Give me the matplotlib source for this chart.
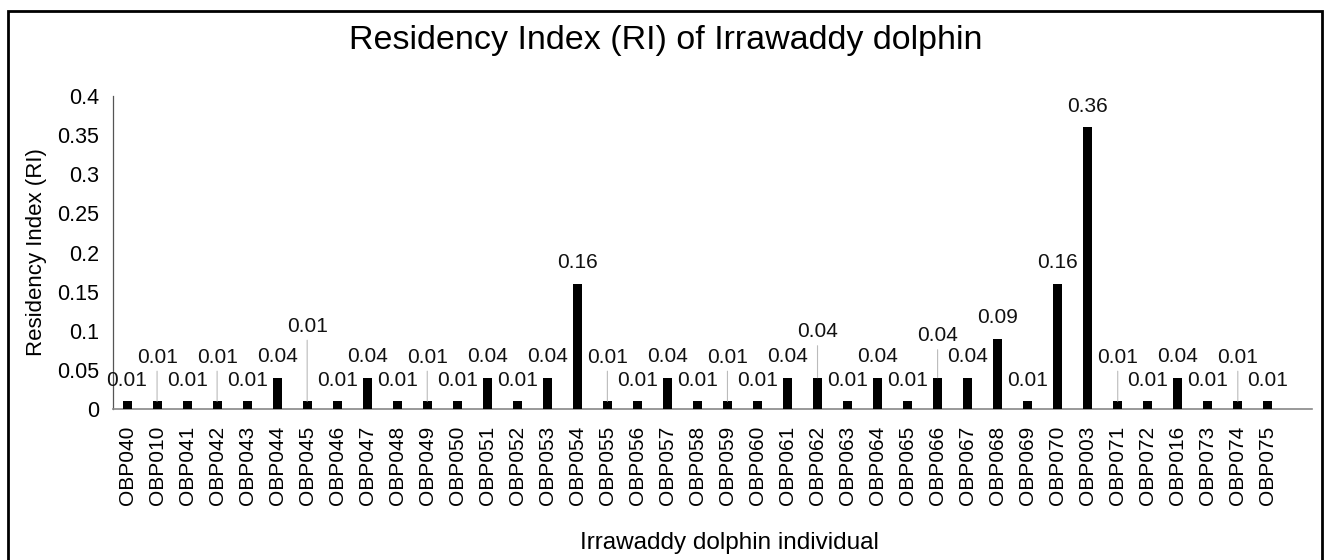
import matplotlib.pyplot as plt
from matplotlib.patches import Rectangle

plt.rcParams['font.family'] = ['Liberation Sans', 'DejaVu Sans']

# individuals in chart order
dolphins = ['OBP040', 'OBP010', 'OBP041', 'OBP042', 'OBP043', 'OBP044', 'OBP045',
            'OBP046', 'OBP047', 'OBP048', 'OBP049', 'OBP050', 'OBP051', 'OBP052',
            'OBP053', 'OBP054', 'OBP055', 'OBP056', 'OBP057', 'OBP058', 'OBP059',
            'OBP060', 'OBP061', 'OBP062', 'OBP063', 'OBP064', 'OBP065', 'OBP066',
            'OBP067', 'OBP068', 'OBP069', 'OBP070', 'OBP003', 'OBP071', 'OBP072',
            'OBP016', 'OBP073', 'OBP074', 'OBP075']
ri = [0.01, 0.01, 0.01, 0.01, 0.01, 0.04, 0.01,
      0.01, 0.04, 0.01, 0.01, 0.01, 0.04, 0.01,
      0.04, 0.16, 0.01, 0.01, 0.04, 0.01, 0.01,
      0.01, 0.04, 0.04, 0.01, 0.04, 0.01, 0.04,
      0.04, 0.09, 0.01, 0.16, 0.36, 0.01, 0.01,
      0.04, 0.01, 0.01, 0.01]

# labels that excel pushed up (index -> pixel lift above bar top)
raised = {1: 44, 3: 44, 6: 75, 10: 44, 16: 44, 20: 44, 23: 46, 27: 42, 33: 44, 37: 44}

fig = plt.figure(figsize=(13.24, 5.6), dpi=100)
ax = fig.add_axes([0.0853, 0.2696, 0.9056, 0.559])

x = range(len(dolphins))
ax.bar(x, ri, width=0.3, color='black', zorder=3)

for i, v in enumerate(ri):
    lift = raised.get(i, 21)
    ax.annotate('%.2f' % v, (i, v), xytext=(0, lift), textcoords='offset pixels',
                ha='center', va='center', fontsize=15, color='#111111')
    if i in raised:
        ax.annotate('', (i, v), xytext=(0, lift - 14), textcoords='offset pixels',
                    arrowprops=dict(arrowstyle='-', color='#bbbbbb', lw=0.8,
                                    shrinkA=0, shrinkB=0))

ax.set_xlim(-0.47, len(dolphins) - 1 + 1.47)
ax.set_ylim(0, 0.4)
ax.set_yticks([0, 0.05, 0.1, 0.15, 0.2, 0.25, 0.3, 0.35, 0.4])
ax.set_yticklabels(['0', '0.05', '0.1', '0.15', '0.2', '0.25', '0.3', '0.35', '0.4'],
                   fontsize=15.5)
ax.set_xticks(list(x))
ax.set_xticklabels(dolphins, rotation=90, fontsize=15)
ax.tick_params(length=0, pad=12)
ax.tick_params(axis='y', pad=10)

for s in ['top', 'right']:
    ax.spines[s].set_visible(False)
ax.spines['left'].set_color('#555555')
ax.spines['left'].set_linewidth(0.9)
ax.spines['bottom'].set_color('#888888')
ax.spines['bottom'].set_linewidth(1.2)

ax.set_ylabel('Residency Index (RI)', fontsize=16)
ax.yaxis.set_label_coords(-0.055, 0.5)
fig.text(0.551, 0.03, 'Irrawaddy dolphin individual', ha='center', va='center', fontsize=17.5)
fig.text(0.503, 0.928, 'Residency Index (RI) of Irrawaddy dolphin', ha='center',
         va='center', fontsize=24.5)

# black frame around the chart
fig.patches.append(Rectangle((8 / 1324, -0.01), 1314 / 1324, 1 - 11 / 560 + 0.01,
                             transform=fig.transFigure, fill=False,
                             edgecolor='black', lw=2))

fig.savefig('out.png', dpi=100)
